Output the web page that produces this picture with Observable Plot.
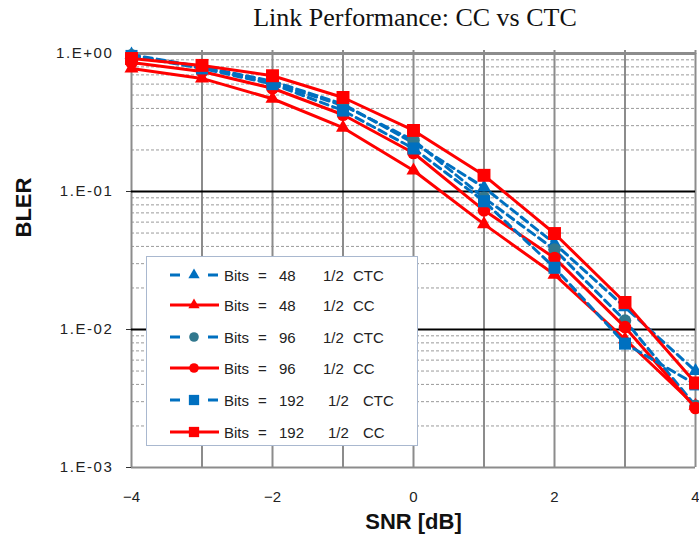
<!DOCTYPE html>
<html>
<head>
<meta charset="utf-8">
<script src="https://cdn.jsdelivr.net/npm/d3@7"></script>
<script src="https://cdn.jsdelivr.net/npm/@observablehq/plot@0.6"></script>
<style>
  html, body { margin: 0; padding: 0; background: #fff; }
  #wrap { position: relative; width: 699px; height: 538px; overflow: hidden; background: #fff; }
  #title { width: 568px; padding-left: 131px; height: 36px; line-height: 36px; text-align: center;
           font-family: "Liberation Serif", "DejaVu Serif", serif; font-size: 26px; color: #111; }
  #legend { position: absolute; left: 0; top: 0; pointer-events: none; }
</style>
</head>
<body>
<div id="wrap">
  <div id="title">Link Performance: CC vs CTC</div>
  <div id="plot"></div>
</div>
<script>
// ---- data ----
const snr = [-4, -3, -2, -1, 0, 1, 2, 3, 4];
const ctc48  = [0.98, 0.80, 0.63, 0.43, 0.225, 0.107, 0.042, 0.0145, 0.0050];
const cc48   = [0.78, 0.66, 0.47, 0.29, 0.142, 0.058, 0.025, 0.0085, 0.0028];
const ctc96  = [0.97, 0.79, 0.61, 0.42, 0.235, 0.090, 0.038, 0.0116, 0.0028];
const cc96   = [0.86, 0.74, 0.56, 0.36, 0.190, 0.073, 0.033, 0.0104, 0.0027];
const ctc192 = [0.96, 0.78, 0.60, 0.386, 0.205, 0.085, 0.028, 0.0079, 0.0040];
const cc192  = [0.92, 0.82, 0.69, 0.48, 0.277, 0.131, 0.0496, 0.0157, 0.0041];

const seriesNames = ["Bits = 48 1/2 CTC", "Bits = 48 1/2 CC", "Bits = 96 1/2 CTC",
                     "Bits = 96 1/2 CC", "Bits = 192 1/2 CTC", "Bits = 192 1/2 CC"];
const legendBits = ["48", "48", "96", "96", "192", "192"];
const legendRate = ["1/2", "1/2", "1/2", "1/2", "1/2", "1/2"];
const legendCode = ["CTC", "CC", "CTC", "CC", "CTC", "CC"];

const xGridTicks = [-4, -3, -2, -1, 0, 1, 2, 3, 4];
const xLabelTicks = [-4, -2, 0, 2, 4];
const yTicks = [1, 0.1, 0.01, 0.001];
const yMajorInner = [0.1, 0.01];
const yMinorTicks = [0.002, 0.003, 0.004, 0.005, 0.006, 0.007, 0.008, 0.009,
                     0.02, 0.03, 0.04, 0.05, 0.06, 0.07, 0.08, 0.09,
                     0.2, 0.3, 0.4, 0.5, 0.6, 0.7, 0.8, 0.9];

// ---- styles ----
const RED = "#FF0000", BLUE = "#0070C0", TEAL = "#31788E";
const styles = [
  {vals: ctc48,  line: BLUE, fill: BLUE, dash: "8,5", symbol: "triangle", r: 5.2},
  {vals: cc48,   line: RED,  fill: RED,  dash: null,  symbol: "triangle", r: 5.2},
  {vals: ctc96,  line: BLUE, fill: TEAL, dash: "8,5", symbol: "circle",   r: 6.3},
  {vals: cc96,   line: RED,  fill: RED,  dash: null,  symbol: "circle",   r: 6.3},
  {vals: ctc192, line: BLUE, fill: BLUE, dash: "8,5", symbol: "square",   r: 6.8},
  {vals: cc192,  line: RED,  fill: RED,  dash: null,  symbol: "square",   r: 7.3}
];

const seriesMarks = [];
styles.forEach((s, i) => {
  const rows = snr.map((x, j) => ({x, y: s.vals[j], name: seriesNames[i]}));
  seriesMarks.push(Plot.line(rows, {x: "x", y: "y", stroke: s.line, strokeWidth: 3,
    strokeDasharray: s.dash || undefined, strokeLinejoin: "round"}));
  seriesMarks.push(Plot.dot(rows, {x: "x", y: "y", symbol: () => s.symbol, r: s.r,
    fill: s.fill, stroke: "none"}));
});

const fmtY = d => {
  const e = Math.round(Math.log10(d));
  return "1.E" + (e < 0 ? "-" : "+") + String(Math.abs(e)).padStart(2, "0");
};

const chart = Plot.plot({
  width: 699,
  height: 502,
  marginTop: 17,
  marginBottom: 71,
  marginLeft: 131,
  marginRight: 4,
  style: {fontFamily: "'Liberation Sans', Arial, sans-serif", color: "#222", background: "#fff"},
  x: {domain: [-4, 4]},
  y: {type: "log", domain: [0.001, 1]},
  marks: [
    Plot.ruleY(yMinorTicks, {stroke: "#9a9a9a", strokeWidth: 1, strokeDasharray: "3,2"}),
    Plot.ruleX(xGridTicks, {stroke: "#8c8c8c", strokeWidth: 2}),
    Plot.ruleY(yMajorInner, {stroke: "#000", strokeWidth: 2}),
    Plot.ruleY([1], {stroke: "#8c8c8c", strokeWidth: 3}),
    Plot.ruleY([0.001], {stroke: "#8c8c8c", strokeWidth: 2}),
    Plot.axisX(xGridTicks, {anchor: "top", tickSize: 4, tickFormat: () => "", stroke: "#8c8c8c", strokeWidth: 2, label: null}),
    Plot.axisX(xLabelTicks, {anchor: "bottom", tickSize: 0, tickPadding: 24, fontSize: 15, label: null, fill: "#222"}),
    Plot.axisY(yTicks, {anchor: "left", tickSize: 5, tickPadding: 13, fontSize: 15, tickFormat: fmtY, label: null, fill: "#222", stroke: "#333"}),
    Plot.text(["SNR [dB]"], {frameAnchor: "bottom", dy: 61, fontSize: 22, fontWeight: "bold", fill: "#111"}),
    Plot.text(["BLER"], {frameAnchor: "left", dx: -108, dy: -23, rotate: -90, fontSize: 22, fontWeight: "bold", fill: "#111"}),
    ...seriesMarks
  ]
});
document.getElementById("plot").appendChild(chart);

// letter spacing on y tick labels to mimic the original font
d3.select(chart).selectAll('g[aria-label="y-axis tick label"] text').style("letter-spacing", "1.6px");

// ---- legend overlay ----
const lg = d3.select("#wrap").append("svg").attr("id", "legend").attr("width", 699).attr("height", 538);
lg.append("rect").attr("x", 146.5).attr("y", 256.5).attr("width", 271).attr("height", 189)
  .attr("fill", "#fff").attr("stroke", "#A9B8CF").attr("stroke-width", 1);
const rowY = [275, 305, 337, 368, 400, 432];
const legendR = {triangle: 4.2, circle: 4.8, square: 5.8};
styles.forEach((s, i) => {
  const g = lg.append("g").attr("transform", `translate(0,${rowY[i]})`);
  const line = g.append("line").attr("x1", 170).attr("x2", 219).attr("y1", 0).attr("y2", 0)
    .attr("stroke", s.line).attr("stroke-width", 3);
  if (s.dash) line.attr("stroke-dasharray", "10,28");
  const sym = {triangle: d3.symbolTriangle, circle: d3.symbolCircle, square: d3.symbolSquare}[s.symbol];
  const rr = legendR[s.symbol];
  g.append("path").attr("transform", "translate(194,0)")
    .attr("d", d3.symbol(sym, Math.PI * rr * rr)()).attr("fill", s.fill);
  const big = legendBits[i].length > 2;
  const tokens = [["Bits", 224], ["=", 258], [legendBits[i], 279],
                  [legendRate[i], big ? 328 : 323], [legendCode[i], big ? 363 : 353]];
  tokens.forEach(([t, x]) => {
    g.append("text").attr("x", x).attr("y", 5.5).text(t)
      .attr("font-family", "'Liberation Sans', Arial, sans-serif").attr("font-size", 15).attr("fill", "#222");
  });
});
</script>
</body>
</html>
